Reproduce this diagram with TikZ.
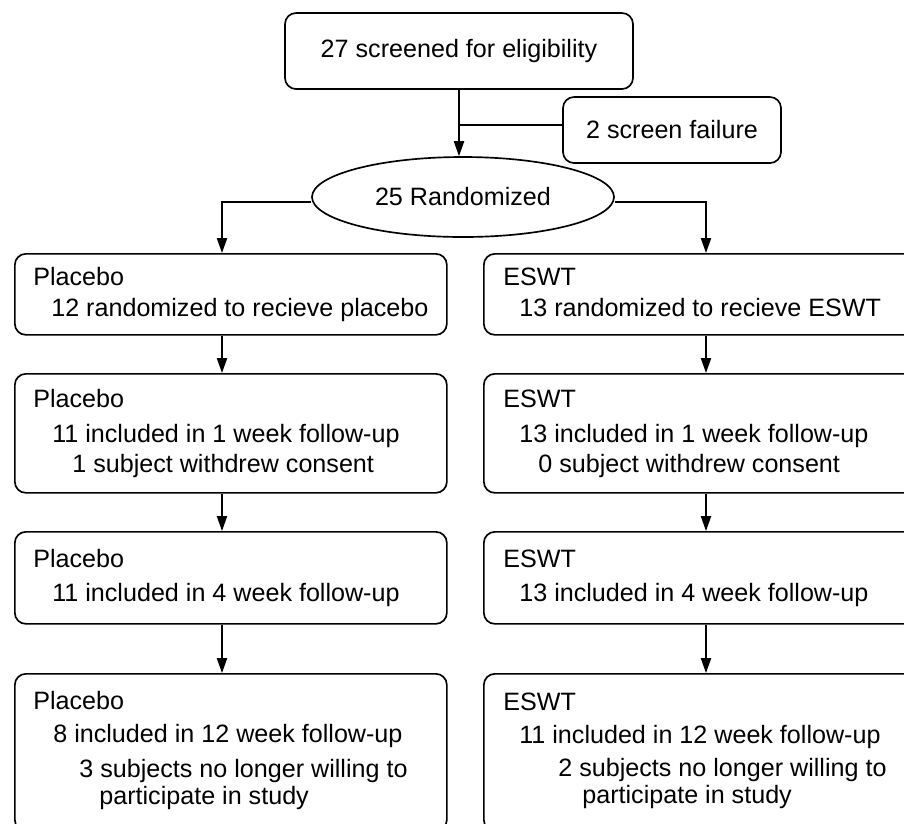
\documentclass[tikz,border=0pt]{standalone}
\usepackage{fontspec}
\setmainfont{Liberation Sans}
\usetikzlibrary{shapes.geometric,arrows.meta}
\begin{document}
\begin{tikzpicture}[x=0.02cm,y=-0.02cm,
  every node/.style={font=\fontsize{14.3pt}{16pt}\selectfont},
  box/.style={draw,line width=0.95pt,rounded corners=0.22cm,inner sep=0pt},
  lbl/.style={anchor=base west,inner sep=0pt},
  conn/.style={line width=0.8pt},
  arr/.style={line width=0.8pt,-{Triangle[length=8.5pt,width=5.8pt]}}]
\useasboundingbox (0,0) rectangle (904,823);
\clip (0,0) rectangle (904,823);
% top
\node[box,minimum width={348*0.02cm},minimum height={76*0.02cm}] (top) at (459,51) {27 screened for eligibility};
\node[box,minimum width={218*0.02cm},minimum height={66*0.02cm}] (fail) at (672,130) {2 screen failure};
\node[draw,ellipse,line width=0.95pt,inner sep=0pt,minimum width={302*0.02cm},minimum height={80*0.02cm}] (ell) at (463,197) {25 Randomized};
% boxes
\node[box,anchor=north west,minimum width={432*0.02cm},minimum height={81*0.02cm}] (p1) at (14,253) {};
\node[box,anchor=north west,minimum width={432*0.02cm},minimum height={119*0.02cm}] (p2) at (14,373) {};
\node[box,anchor=north west,minimum width={432*0.02cm},minimum height={92*0.02cm}] (p3) at (14,531) {};
\node[box,anchor=north west,minimum width={432*0.02cm},minimum height={157*0.02cm}] (p4) at (14,673) {};
\node[box,anchor=north west,minimum width={432*0.02cm},minimum height={81*0.02cm}] (e1) at (483,253) {};
\node[box,anchor=north west,minimum width={432*0.02cm},minimum height={119*0.02cm}] (e2) at (483,373) {};
\node[box,anchor=north west,minimum width={432*0.02cm},minimum height={92*0.02cm}] (e3) at (483,531) {};
\node[box,anchor=north west,minimum width={432*0.02cm},minimum height={157*0.02cm}] (e4) at (483,673) {};
% texts left
\node[lbl] (p1a) at (33,285) {Placebo};
\node[lbl] (p1b) at (51,316) {12 randomized to recieve placebo};
\node[lbl] (p2a) at (33,407) {Placebo};
\node[lbl] (p2b) at (52,442) {11 included in 1 week follow-up};
\node[lbl] (p2c) at (72,472) {1 subject withdrew consent};
\node[lbl] (p3a) at (33,567) {Placebo};
\node[lbl] (p3b) at (52,601) {11 included in 4 week follow-up};
\node[lbl] (p4a) at (33,709) {Placebo};
\node[lbl] (p4b) at (53,742) {8 included in 12 week follow-up};
\node[lbl] (p4c) at (79,777) {3 subjects no longer willing to};
\node[lbl] (p4d) at (99,804) {participate in study};
% texts right
\node[lbl] (e1a) at (503,285) {ESWT};
\node[lbl] (e1b) at (519,316) {13 randomized to recieve ESWT};
\node[lbl] (e2a) at (503,407) {ESWT};
\node[lbl] (e2b) at (519,442) {13 included in 1 week follow-up};
\node[lbl] (e2c) at (538,472) {0 subject withdrew consent};
\node[lbl] (e3a) at (503,567) {ESWT};
\node[lbl] (e3b) at (519,601) {13 included in 4 week follow-up};
\node[lbl] (e4a) at (503,710) {ESWT};
\node[lbl] (e4b) at (519,743) {11 included in 12 week follow-up};
\node[lbl] (e4c) at (558,776) {2 subjects no longer willing to};
\node[lbl] (e4d) at (582,803) {participate in study};
% connectors
\coordinate (j) at (459,125);
\coordinate (la) at (222,253);
\coordinate (ra) at (706,253);
\draw[arr] (top.south) -- (top.south |- ell.north);
\draw[conn] (j) -- (j -| fail.west);
\draw[arr] ([yshift=-0.1cm]ell.west) -| (la);
\draw[arr] ([yshift=-0.1cm]ell.east) -| (ra);
\draw[arr] (p1.south -| la) -- (p2.north -| la);
\draw[arr] (p2.south -| la) -- (p3.north -| la);
\draw[arr] (p3.south -| la) -- (p4.north -| la);
\draw[arr] (e1.south -| ra) -- (e2.north -| ra);
\draw[arr] (e2.south -| ra) -- (e3.north -| ra);
\draw[arr] (e3.south -| ra) -- (e4.north -| ra);
\end{tikzpicture}
\end{document}
